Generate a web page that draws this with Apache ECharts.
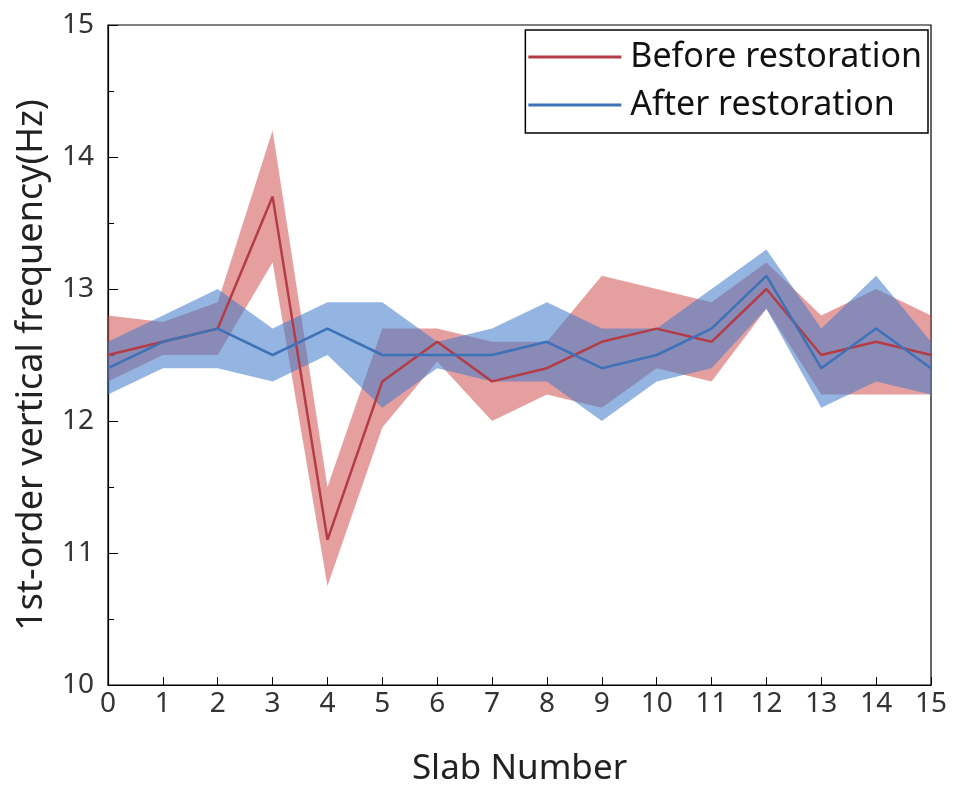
<!DOCTYPE html>
<html><head><meta charset="utf-8">
<script src="https://cdn.jsdelivr.net/npm/echarts@6/dist/echarts.min.js"></script>
<style>html,body{margin:0;padding:0;background:#fff}#c{width:955px;height:787px}</style>
</head><body><div id="c"></div>
<script>
const categories = ['0','1','2','3','4','5','6','7','8','9','10','11','12','13','14','15'];
const yTicks = [10, 11, 12, 13, 14, 15];
const before     = [12.5,12.6,12.7,13.7,11.1,12.3,12.6,12.3,12.4,12.6,12.7,12.6,13.0,12.5,12.6,12.5];
const beforeLow  = [12.3,12.5,12.5,13.2,10.75,11.95,12.45,12.0,12.2,12.1,12.4,12.3,12.85,12.2,12.2,12.2];
const beforeHigh = [12.8,12.75,12.9,14.2,11.5,12.7,12.7,12.6,12.6,13.1,13.0,12.9,13.2,12.8,13.0,12.8];
const after      = [12.4,12.6,12.7,12.5,12.7,12.5,12.5,12.5,12.6,12.4,12.5,12.7,13.1,12.4,12.7,12.4];
const afterLow   = [12.2,12.4,12.4,12.3,12.5,12.1,12.4,12.3,12.3,12.0,12.3,12.4,12.85,12.1,12.3,12.2];
const afterHigh  = [12.6,12.8,13.0,12.7,12.9,12.9,12.6,12.7,12.9,12.7,12.7,13.0,13.3,12.7,13.1,12.6];

const FONT = 'Noto Sans';
const diff = (hi, lo) => hi.map((v, i) => +(v - lo[i]).toFixed(3));

function band(name, lo, hi, color) {
  return [
    { name: name + '_lo', type: 'line', stack: name, data: lo, symbol: 'none', silent: true,
      lineStyle: { opacity: 0 }, z: 1 },
    { name: name + '_band', type: 'line', stack: name, data: diff(hi, lo), symbol: 'none', silent: true,
      lineStyle: { opacity: 0 }, areaStyle: { color: color, opacity: 1 }, z: 1 }
  ];
}

const chart = echarts.init(document.getElementById('c'));
chart.setOption({
  animation: false,
  backgroundColor: '#fff',
  grid: { left: 108, right: 24, top: 25, bottom: 102, show: true, borderColor: '#000', borderWidth: 1.2,
          containLabel: false, outerBoundsMode: 'none' },
  legend: {
    data: ['Before restoration', 'After restoration'],
    orient: 'vertical', right: 27, top: 30,
    itemWidth: 93, itemHeight: 3, itemGap: 14, icon: 'rect',
    padding: [10, 6, 11, 3],
    borderColor: '#000', borderWidth: 1.5, backgroundColor: '#fff',
    textStyle: { fontFamily: FONT, fontSize: 34, color: '#111', padding: [0, 0, 0, 4] }
  },
  xAxis: {
    type: 'category', data: categories, boundaryGap: false,
    name: 'Slab Number', nameLocation: 'middle', nameGap: 67,
    nameTextStyle: { fontFamily: FONT, fontSize: 35, color: '#222' },
    axisLine: { lineStyle: { color: '#000', width: 1.2 } },
    axisTick: { inside: true, length: 8, lineStyle: { color: '#000' }, alignWithLabel: true },
    axisLabel: { fontFamily: FONT, fontSize: 28, color: '#333', margin: 5, interval: 0 },
    splitLine: { show: false }
  },
  yAxis: {
    type: 'value', min: yTicks[0], max: yTicks[yTicks.length - 1], interval: 1,
    name: '1st-order vertical frequency(Hz)', nameLocation: 'middle', nameGap: 58,
    nameTextStyle: { fontFamily: FONT, fontSize: 36, color: '#222', padding: [0, 20, 0, 0] },
    axisLine: { show: true, lineStyle: { color: '#000', width: 1.2 } },
    axisTick: { show: true, inside: true, length: 10, lineStyle: { color: '#000' } },
    minorTick: { show: true, splitNumber: 2, length: 6, lineStyle: { color: '#000' } },
    axisLabel: { fontFamily: FONT, fontSize: 28, color: '#333', margin: 14 },
    splitLine: { show: false }
  },
  series: [
    ...band('b', beforeLow, beforeHigh, 'rgba(210,80,80,0.55)'),
    { name: 'Before restoration', type: 'line', data: before, symbol: 'none',
      lineStyle: { color: '#b33c45', width: 2.5 }, itemStyle: { color: '#b33c45' }, z: 2 },
    ...band('a', afterLow, afterHigh, 'rgba(60,120,200,0.55)'),
    { name: 'After restoration', type: 'line', data: after, symbol: 'none',
      lineStyle: { color: '#3d72b8', width: 2.5 }, itemStyle: { color: '#3d72b8' }, z: 3 }
  ]
});
</script></body></html>
